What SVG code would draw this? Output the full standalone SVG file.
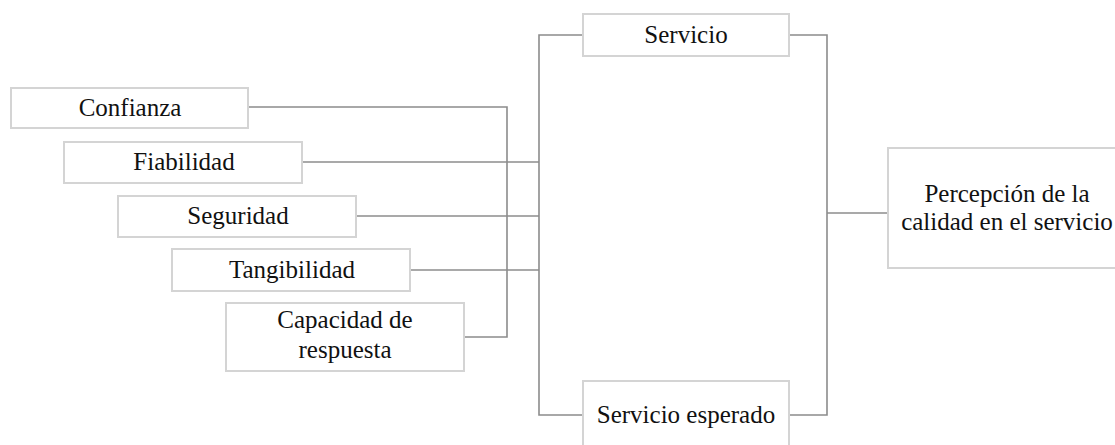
<svg xmlns="http://www.w3.org/2000/svg" width="1115" height="445" viewBox="0 0 1115 445">
<style>
.box{fill:#fff;stroke:#d4d4d4;stroke-width:2}
.lbl{font-family:"Liberation Serif","Times New Roman",serif;font-size:25px;fill:#111;text-anchor:middle}
.ln{fill:none;stroke:#8c8c8c;stroke-width:1.6}
</style>
<rect width="1115" height="445" fill="#fff"/>
<g id="connectors">
<polyline class="ln" points="248,107 507,107 507,337 464,337"/>
<line class="ln" x1="302" y1="162" x2="539" y2="162"/>
<line class="ln" x1="356" y1="216" x2="539" y2="216"/>
<line class="ln" x1="410" y1="270" x2="539" y2="270"/>
<polyline class="ln" points="583,35 539,35 539,415 583,415"/>
<polyline class="ln" points="789,35 827,35 827,415 789,415"/>
<line class="ln" x1="827" y1="213" x2="888" y2="213"/>
</g>
<g id="confianza"><rect class="box" x="11" y="88" width="237" height="40"/><text class="lbl" x="130" y="116">Confianza</text></g>
<g id="fiabilidad"><rect class="box" x="64" y="142" width="238" height="41"/><text class="lbl" x="184" y="170">Fiabilidad</text></g>
<g id="seguridad"><rect class="box" x="118" y="196" width="238" height="41"/><text class="lbl" x="238" y="224">Seguridad</text></g>
<g id="tangibilidad"><rect class="box" x="172" y="249" width="238" height="42"/><text class="lbl" x="292" y="278">Tangibilidad</text></g>
<g id="capacidad"><rect class="box" x="226" y="303" width="238" height="68"/><text class="lbl" x="345" y="328">Capacidad de</text><text class="lbl" x="345" y="358">respuesta</text></g>
<g id="servicio"><rect class="box" x="583" y="14" width="206" height="42"/><text class="lbl" x="686" y="43">Servicio</text></g>
<g id="servicio-esperado"><rect class="box" x="583" y="381" width="206" height="70"/><text class="lbl" x="686" y="423">Servicio esperado</text></g>
<g id="percepcion"><rect class="box" x="888" y="148" width="240" height="120"/><text class="lbl" x="1007" y="202">Percepción de la</text><text class="lbl" x="1007" y="230">calidad en el servicio</text></g>
</svg>
